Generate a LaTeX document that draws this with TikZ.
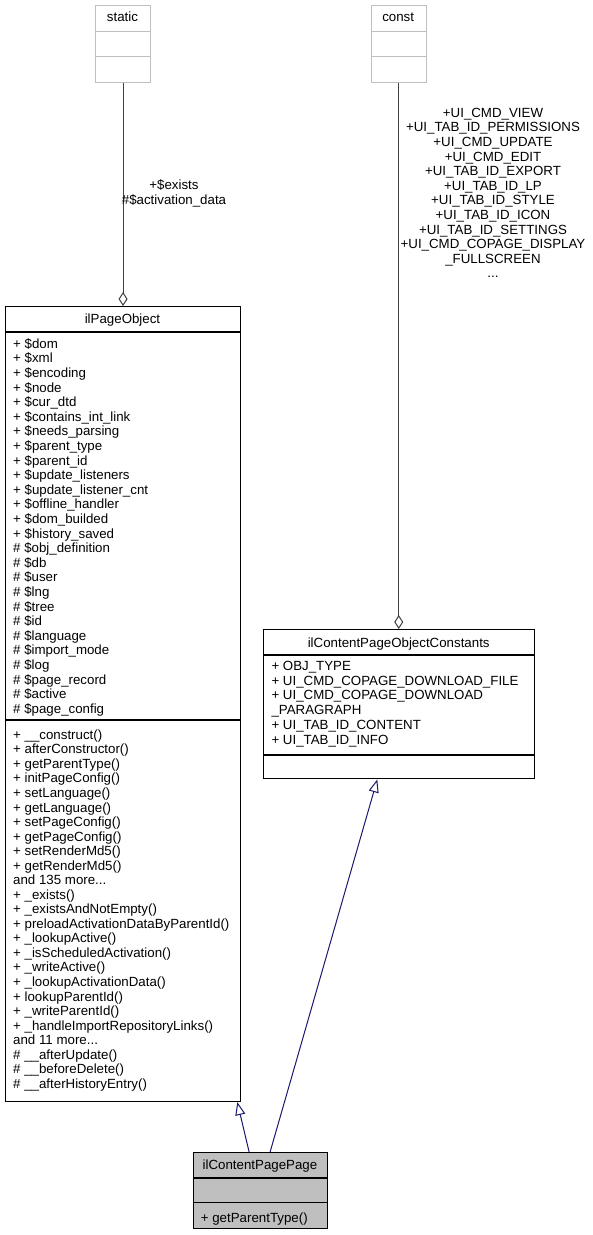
\documentclass[tikz,border=0pt]{standalone}
\usepackage{fontspec}
\setmainfont{Liberation Sans}
\usetikzlibrary{arrows.meta}
\definecolor{edgegray}{HTML}{404040}
\definecolor{boxgray}{HTML}{BFBFBF}
\definecolor{navyedge}{HTML}{191970}
\newcommand\mydots{...}
\begin{document}
\begin{tikzpicture}[x=1pt,y=1pt,
  txt/.style={inner sep=0pt, font=\fontsize{13.3}{14.6}\selectfont},
  cls/.style={draw=black, line width=1.1pt, inner sep=0pt, anchor=north west},
  ghost/.style={draw=boxgray, line width=1.1pt, inner sep=0pt, anchor=north west},
  sepline/.style={line width=1.1pt},
  agg/.style={draw=edgegray, line width=1pt, -{Diamond[open,length=14pt,width=9pt]}},
  inh/.style={draw=navyedge, line width=1pt, -{Triangle[open,length=13pt,width=10pt]}}]
\useasboundingbox (0,0) rectangle (593,-1235);
\fill[white] (0,0) rectangle (593,-1235);

% ---- static
\node[ghost, minimum width=55pt, minimum height=77pt] (stat) at (95,-5) {};
\draw[sepline, boxgray] ([yshift=-26.5pt]stat.north west) -- ([yshift=-26.5pt]stat.north east);
\draw[sepline, boxgray] ([yshift=-51.5pt]stat.north west) -- ([yshift=-51.5pt]stat.north east);
\node[txt, anchor=base] (statt) at (122.5,-21.3) {static};

% ---- const
\node[ghost, minimum width=55pt, minimum height=77pt] (cst) at (370.7,-5) {};
\draw[sepline, boxgray] ([yshift=-26.5pt]cst.north west) -- ([yshift=-26.5pt]cst.north east);
\draw[sepline, boxgray] ([yshift=-51.5pt]cst.north west) -- ([yshift=-51.5pt]cst.north east);
\node[txt, anchor=base] (cstt) at (398.2,-21.3) {const};

% ---- ilPageObject
\node[cls, minimum width=235pt, minimum height=795pt] (po) at (5,-306) {};
\draw[sepline] ([yshift=-26pt]po.north west) -- ([yshift=-26pt]po.north east);
\draw[sepline] ([yshift=-414pt]po.north west) -- ([yshift=-414pt]po.north east);
\node[txt, anchor=base] (pot) at (122.5,-323) {ilPageObject};
\foreach \t [count=\i from 0] in {{+ \$dom}, {+ \$xml}, {+ \$encoding}, {+ \$node}, {+ \$cur\_dtd},
  {+ \$contains\_int\_link}, {+ \$needs\_parsing}, {+ \$parent\_type}, {+ \$parent\_id},
  {+ \$update\_listeners}, {+ \$update\_listener\_cnt}, {+ \$offline\_handler},
  {+ \$dom\_builded}, {+ \$history\_saved}, {\# \$obj\_definition}, {\# \$db}, {\# \$user},
  {\# \$lng}, {\# \$tree}, {\# \$id}, {\# \$language}, {\# \$import\_mode}, {\# \$log},
  {\# \$page\_record}, {\# \$active}, {\# \$page\_config}}
  \node[txt, anchor=base west] (pa\i) at (13,-348.3-\i*14.6) {\t};
\foreach \t [count=\i from 0] in {{+ \_\_construct()}, {+ afterConstructor()}, {+ getParentType()},
  {+ initPageConfig()}, {+ setLanguage()}, {+ getLanguage()}, {+ setPageConfig()},
  {+ getPageConfig()}, {+ setRenderMd5()}, {+ getRenderMd5()}, {and 135 more\mydots},
  {+ \_exists()}, {+ \_existsAndNotEmpty()}, {+ preloadActivationDataByParentId()},
  {+ \_lookupActive()}, {+ \_isScheduledActivation()}, {+ \_writeActive()},
  {+ \_lookupActivationData()}, {+ lookupParentId()}, {+ \_writeParentId()},
  {+ \_handleImportRepositoryLinks()}, {and 11 more\mydots}, {\# \_\_afterUpdate()},
  {\# \_\_beforeDelete()}, {\# \_\_afterHistoryEntry()}}
  \node[txt, anchor=base west] (pm\i) at (13,-739.3-\i*14.54) {\t};

% ---- ilContentPageObjectConstants
\node[cls, minimum width=270.7pt, minimum height=149.3pt] (cpoc) at (263.3,-629) {};
\draw[sepline] ([yshift=-26pt]cpoc.north west) -- ([yshift=-26pt]cpoc.north east);
\draw[sepline] ([yshift=-126pt]cpoc.north west) -- ([yshift=-126pt]cpoc.north east);
\node[txt, anchor=base] (cpoct) at (398.7,-647) {ilContentPageObjectConstants};
\foreach \t [count=\i from 0] in {{+ OBJ\_TYPE}, {+ UI\_CMD\_COPAGE\_DOWNLOAD\_FILE},
  {+ UI\_CMD\_COPAGE\_DOWNLOAD}, {\_PARAGRAPH}, {+ UI\_TAB\_ID\_CONTENT}, {+ UI\_TAB\_ID\_INFO}}
  \node[txt, anchor=base west] (ca\i) at (271.3,-670.5-\i*14.7) {\t};

% ---- ilContentPagePage
\node[cls, fill=boxgray, minimum width=134.6pt, minimum height=75.9pt] (cpp) at (192.7,-1152.3) {};
\draw[sepline] ([yshift=-25.7pt]cpp.north west) -- ([yshift=-25.7pt]cpp.north east);
\draw[sepline] ([yshift=-50.2pt]cpp.north west) -- ([yshift=-50.2pt]cpp.north east);
\node[txt, anchor=base] (cppt) at (260,-1169.3) {ilContentPagePage};
\node[txt, anchor=base west] (cppm) at (200.7,-1222.3) {+ getParentType()};

% ---- edges
\draw[agg] (stat.south) -- (stat.south |- po.north);
\draw[agg] (cst.south) -- (cst.south |- cpoc.north);
\draw[inh] ([xshift=56.5pt]cpp.north west) -- ([xshift=232.3pt]po.south west);
\draw[inh] ([xshift=77.3pt]cpp.north west) -- ([xshift=114pt]cpoc.south west);

% ---- edge labels
\node[txt, align=center] (lab1) at (174,-193.5) {+\$exists\\\#\$activation\_data};
\node[txt, align=center] (lab2) at (493,-193) {+UI\_CMD\_VIEW\\+UI\_TAB\_ID\_PERMISSIONS\\+UI\_CMD\_UPDATE\\+UI\_CMD\_EDIT\\+UI\_TAB\_ID\_EXPORT\\+UI\_TAB\_ID\_LP\\+UI\_TAB\_ID\_STYLE\\+UI\_TAB\_ID\_ICON\\+UI\_TAB\_ID\_SETTINGS\\+UI\_CMD\_COPAGE\_DISPLAY\\\_FULLSCREEN\\...};
\end{tikzpicture}
\end{document}
